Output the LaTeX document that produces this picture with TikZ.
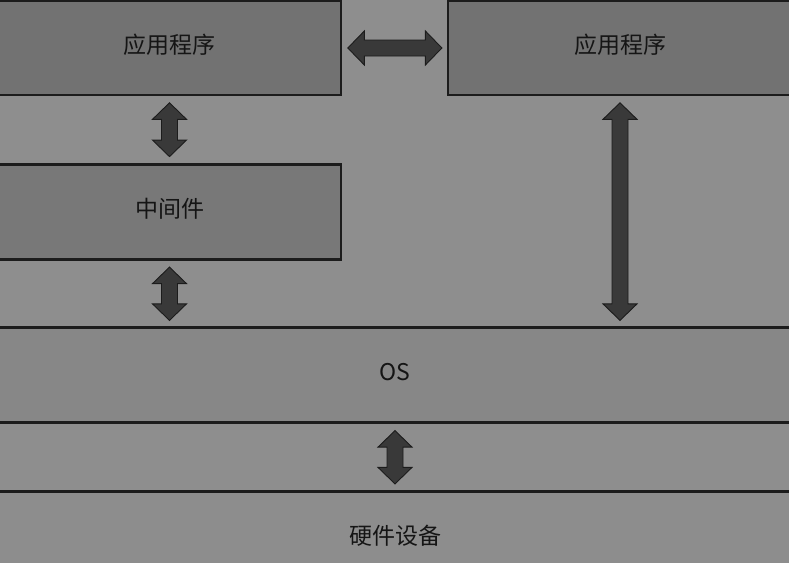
\documentclass[tikz,border=0pt]{standalone}
\usepackage{fontspec}
\setmainfont{Noto Sans CJK SC}
\usetikzlibrary{calc}
\definecolor{canvas}{HTML}{8E8E8E}
\definecolor{appfill}{HTML}{727272}
\definecolor{midfill}{HTML}{787878}
\definecolor{osfill}{HTML}{878787}
\definecolor{hwfill}{HTML}{8D8D8D}
\definecolor{edge}{HTML}{1C1C1C}
\definecolor{arrowfill}{HTML}{393939}
\definecolor{labelcol}{HTML}{151515}
\tikzset{
  layer/.style={rectangle, draw=edge, line width=2.2pt, inner sep=0pt,
    text=labelcol, font=\fontsize{23}{27}\selectfont,
    text height=16pt, text depth=5.6pt},
  blockarrow/.style={draw=edge, fill=arrowfill, line width=0.9pt, line join=miter,
    to path={
      -- ($(\tikztostart)!16.5pt!(\tikztotarget)!17pt!90:(\tikztotarget)$)
      -- ($(\tikztostart)!16.5pt!(\tikztotarget)!8pt!90:(\tikztotarget)$)
      -- ($(\tikztotarget)!16.5pt!(\tikztostart)!8pt!-90:(\tikztostart)$)
      -- ($(\tikztotarget)!16.5pt!(\tikztostart)!17pt!-90:(\tikztostart)$)
      -- (\tikztotarget)
      -- ($(\tikztotarget)!16.5pt!(\tikztostart)!17pt!90:(\tikztostart)$)
      -- ($(\tikztotarget)!16.5pt!(\tikztostart)!8pt!90:(\tikztostart)$)
      -- ($(\tikztostart)!16.5pt!(\tikztotarget)!8pt!-90:(\tikztotarget)$)
      -- ($(\tikztostart)!16.5pt!(\tikztotarget)!17pt!-90:(\tikztotarget)$)
      -- cycle}}
}
\begin{document}
\begin{tikzpicture}[x=1pt, y=-1pt]
  % canvas and frame
  \useasboundingbox (0,0) rectangle (789,562);
  \clip (0,0) rectangle (789,562);
  \fill[canvas] (0,0) rectangle (789,562);

  % layers
  \node[layer, fill=appfill, minimum width=343pt, minimum height=94pt] (app1) at (169.5,48) {应用程序};
  \node[layer, fill=appfill, minimum width=344pt, minimum height=94pt] (app2) at (620,48) {应用程序};
  \node[layer, fill=midfill, minimum width=343pt, minimum height=95pt] (mid) at (169.5,212) {中间件};
  \node[layer, fill=osfill, minimum width=794pt, minimum height=95pt] (os) at (395,375) {OS};
  \node[layer, fill=hwfill, minimum width=794pt, minimum height=95pt] (hw) at (395,539) {硬件设备};

  % arrow end points
  \coordinate (h1) at ($(app1.east)+(5.7,0)$);
  \coordinate (h2) at ($(app2.west)+(-5,0)$);
  \coordinate (v1a) at ($(app1.south)+(0,6.7)$);
  \coordinate (v1b) at ($(mid.north)+(0,-6.8)$);
  \coordinate (v2a) at ($(mid.south)+(0,6.5)$);
  \coordinate (v2b) at ($(os.north-|mid.south)+(0,-6)$);
  \coordinate (v3a) at ($(app2.south)+(0,6.7)$);
  \coordinate (v3b) at ($(os.north-|app2.south)+(0,-6)$);
  \coordinate (v4a) at ($(os.south)+(0,7)$);
  \coordinate (v4b) at ($(hw.north)+(0,-6.5)$);

  % connectors
  \draw[blockarrow] (h1) to (h2);
  \draw[blockarrow] (v1a) to (v1b);
  \draw[blockarrow] (v2a) to (v2b);
  \draw[blockarrow] (v3a) to (v3b);
  \draw[blockarrow] (v4a) to (v4b);
\end{tikzpicture}
\end{document}
